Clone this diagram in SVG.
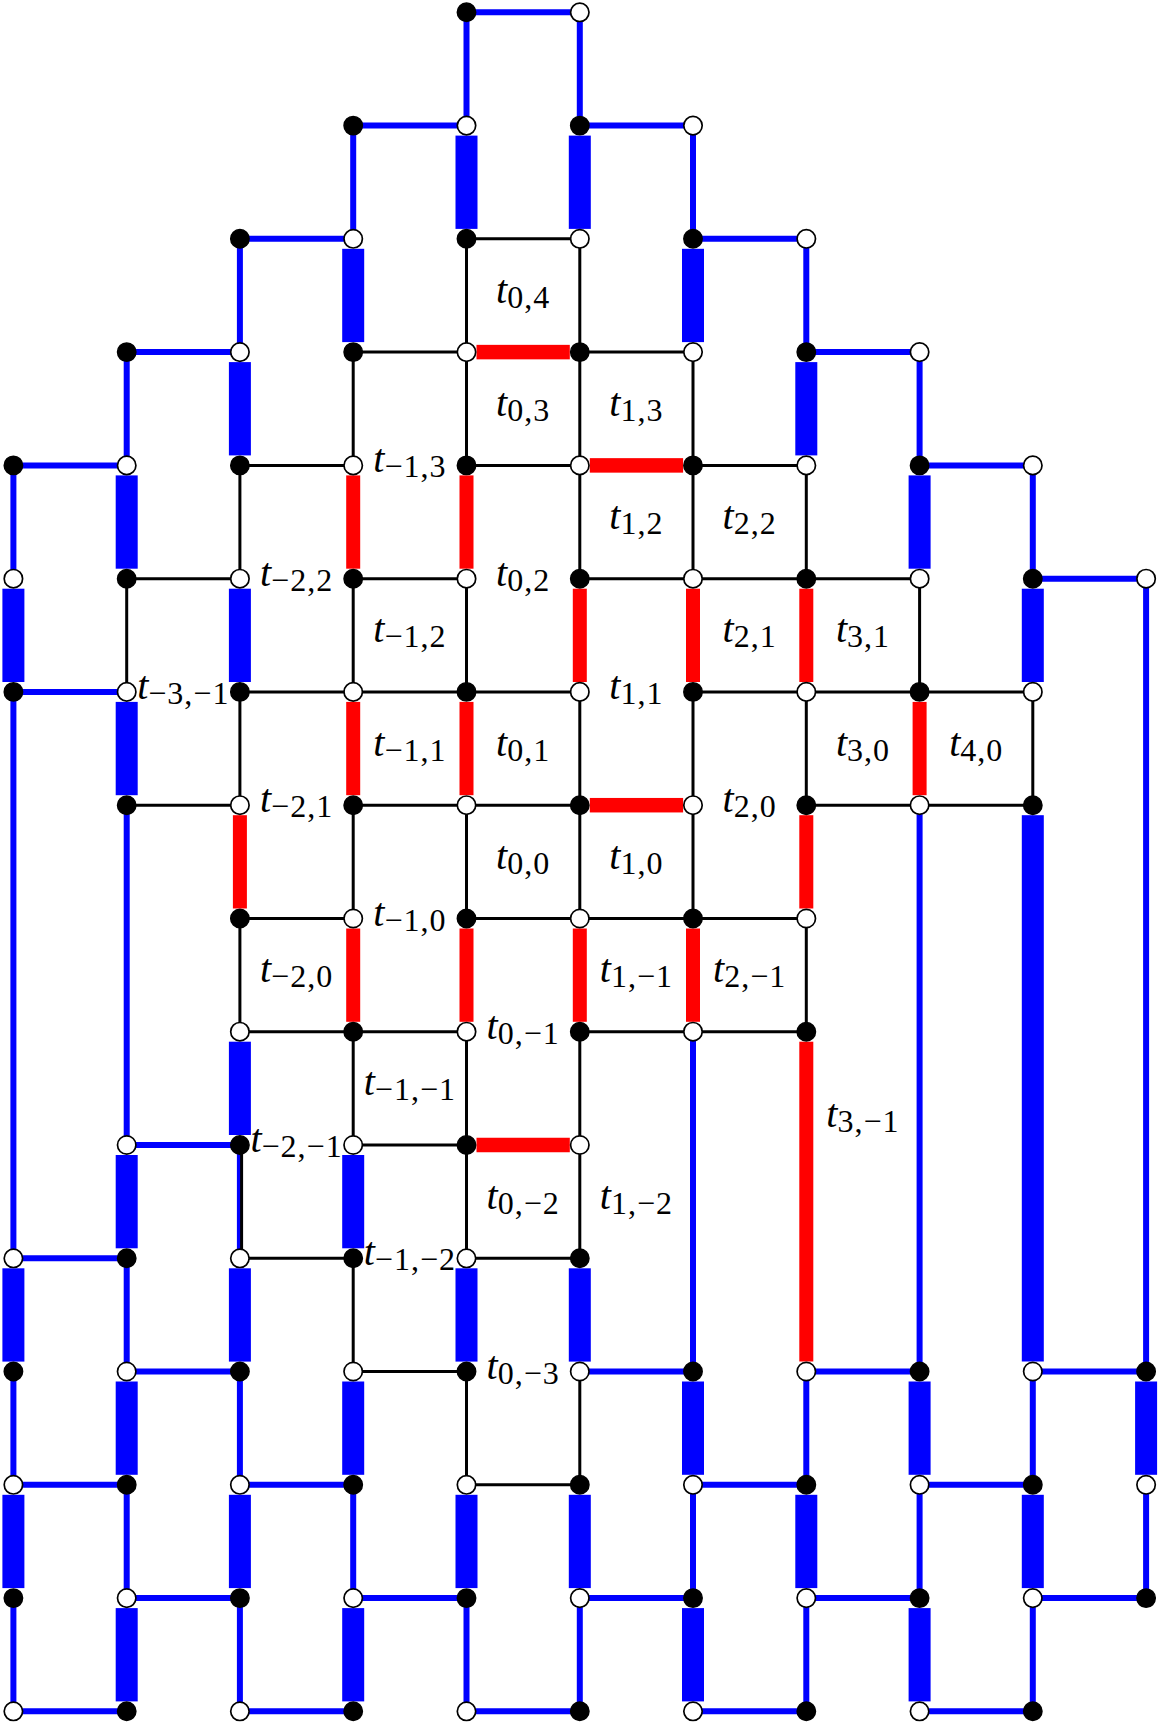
<svg xmlns="http://www.w3.org/2000/svg" width="1160" height="1724" viewBox="0 0 1160 1724">
<style>
.k{fill:none;stroke:#000;stroke-width:3}
.b{fill:none;stroke:#0000ff;stroke-width:6}
.B{fill:#0000ff}
.R{fill:#ff0000}
.bk{fill:#000;stroke:#000;stroke-width:1.5}
.wh{fill:#fff;stroke:#000;stroke-width:1.7}
.lb{font-family:"Liberation Serif","Times New Roman",serif;font-size:40px;text-anchor:middle;fill:#000}
.lb .t{font-style:italic}
.lb .s{font-size:32px;letter-spacing:1px}
</style>
<rect width="1160" height="1724" fill="#fff"/>
<g id="connectors">
<path class="b" d="M466.5 12.3H579.8M466.5 12.3V125.6M579.8 12.3V125.6M353.2 125.6H466.5M579.8 125.6H693M353.2 125.6V238.8M693 125.6V238.8M239.9 238.8H353.2M693 238.8H806.3M239.9 238.8V352.1M806.3 238.8V352.1M126.7 352.1H239.9M806.3 352.1H919.6M126.7 352.1V465.4M919.6 352.1V465.4M13.4 465.4H126.7M919.6 465.4H1032.8M13.4 465.4V578.7M1032.8 465.4V578.7M1032.8 578.7H1146.1M1146.1 578.7V1371.5M13.4 691.9H126.7M13.4 691.9V1258.3M126.7 805.2V1145M919.6 805.2V1371.5M693 1031.7V1371.5M126.7 1145H239.9M239.9 1145V1258.3M13.4 1258.3H126.7M126.7 1258.3V1371.5M126.7 1371.5H239.9M579.8 1371.5H693M806.3 1371.5H919.6M1032.8 1371.5H1146.1M13.4 1371.5V1484.8M239.9 1371.5V1484.8M806.3 1371.5V1484.8M1032.8 1371.5V1484.8M13.4 1484.8H126.7M239.9 1484.8H353.2M693 1484.8H806.3M919.6 1484.8H1032.8M126.7 1484.8V1598.1M353.2 1484.8V1598.1M693 1484.8V1598.1M919.6 1484.8V1598.1M1146.1 1484.8V1598.1M126.7 1598.1H239.9M353.2 1598.1H466.5M579.8 1598.1H693M806.3 1598.1H919.6M1032.8 1598.1H1146.1M13.4 1598.1V1711.3M239.9 1598.1V1711.3M466.5 1598.1V1711.3M579.8 1598.1V1711.3M806.3 1598.1V1711.3M1032.8 1598.1V1711.3M13.4 1711.3H126.7M239.9 1711.3H353.2M466.5 1711.3H579.8M693 1711.3H806.3M919.6 1711.3H1032.8"/>
<path class="k" d="M466.5 238.8H579.8M353.2 352.1H466.5M579.8 352.1H693M239.9 465.4H353.2M466.5 465.4H579.8M693 465.4H806.3M126.7 578.7H239.9M353.2 578.7H466.5M579.8 578.7H919.6M239.9 691.9H579.8M693 691.9H1032.8M126.7 805.2H239.9M353.2 805.2H579.8M806.3 805.2H1032.8M239.9 918.5H353.2M466.5 918.5H806.3M239.9 1031.7H466.5M579.8 1031.7H806.3M353.2 1145H466.5M239.9 1258.3H353.2M466.5 1258.3H579.8M353.2 1371.5H466.5M466.5 1484.8H579.8M466.5 238.8V465.4M579.8 238.8V465.4M353.2 352.1V465.4M693 352.1V465.4M239.9 465.4V578.7M579.8 465.4V578.7M693 465.4V578.7M806.3 465.4V578.7M126.7 578.7V691.9M353.2 578.7V691.9M466.5 578.7V691.9M919.6 578.7V691.9M239.9 691.9V805.2M579.8 691.9V918.5M693 691.9V918.5M806.3 691.9V805.2M1032.8 691.9V805.2M353.2 805.2V918.5M466.5 805.2V918.5M239.9 918.5V1031.7M806.3 918.5V1031.7M353.2 1031.7V1145M466.5 1031.7V1258.3M579.8 1031.7V1258.3M241.6 1145V1258.3M353.2 1258.3V1371.5M466.5 1371.5V1484.8M579.8 1371.5V1484.8"/>
<g class="B">
<rect x="455.5" y="135.6" width="22" height="93.3"/>
<rect x="568.8" y="135.6" width="22" height="93.3"/>
<rect x="342.2" y="248.8" width="22" height="93.3"/>
<rect x="682" y="248.8" width="22" height="93.3"/>
<rect x="228.9" y="362.1" width="22" height="93.3"/>
<rect x="795.3" y="362.1" width="22" height="93.3"/>
<rect x="115.7" y="475.4" width="22" height="93.3"/>
<rect x="908.6" y="475.4" width="22" height="93.3"/>
<rect x="2.4" y="588.7" width="22" height="93.3"/>
<rect x="228.9" y="588.7" width="22" height="93.3"/>
<rect x="1021.8" y="588.7" width="22" height="93.3"/>
<rect x="115.7" y="701.9" width="22" height="93.3"/>
<rect x="1021.8" y="815.2" width="22" height="546.3"/>
<rect x="228.9" y="1041.7" width="22" height="93.3"/>
<rect x="115.7" y="1155" width="22" height="93.3"/>
<rect x="342.2" y="1155" width="22" height="93.3"/>
<rect x="2.4" y="1268.3" width="22" height="93.3"/>
<rect x="228.9" y="1268.3" width="22" height="93.3"/>
<rect x="455.5" y="1268.3" width="22" height="93.3"/>
<rect x="568.8" y="1268.3" width="22" height="93.3"/>
<rect x="115.7" y="1381.5" width="22" height="93.3"/>
<rect x="342.2" y="1381.5" width="22" height="93.3"/>
<rect x="682" y="1381.5" width="22" height="93.3"/>
<rect x="908.6" y="1381.5" width="22" height="93.3"/>
<rect x="1135.1" y="1381.5" width="22" height="93.3"/>
<rect x="2.4" y="1494.8" width="22" height="93.3"/>
<rect x="228.9" y="1494.8" width="22" height="93.3"/>
<rect x="455.5" y="1494.8" width="22" height="93.3"/>
<rect x="568.8" y="1494.8" width="22" height="93.3"/>
<rect x="795.3" y="1494.8" width="22" height="93.3"/>
<rect x="1021.8" y="1494.8" width="22" height="93.3"/>
<rect x="115.7" y="1608.1" width="22" height="93.3"/>
<rect x="342.2" y="1608.1" width="22" height="93.3"/>
<rect x="682" y="1608.1" width="22" height="93.3"/>
<rect x="908.6" y="1608.1" width="22" height="93.3"/>
</g>
<g class="R">
<rect x="346.2" y="475.4" width="14" height="93.3"/>
<rect x="459.5" y="475.4" width="14" height="93.3"/>
<rect x="572.8" y="588.7" width="14" height="93.3"/>
<rect x="686" y="588.7" width="14" height="93.3"/>
<rect x="799.3" y="588.7" width="14" height="93.3"/>
<rect x="346.2" y="701.9" width="14" height="93.3"/>
<rect x="459.5" y="701.9" width="14" height="93.3"/>
<rect x="912.6" y="701.9" width="14" height="93.3"/>
<rect x="232.9" y="815.2" width="14" height="93.3"/>
<rect x="799.3" y="815.2" width="14" height="93.3"/>
<rect x="346.2" y="928.5" width="14" height="93.3"/>
<rect x="459.5" y="928.5" width="14" height="93.3"/>
<rect x="572.8" y="928.5" width="14" height="93.3"/>
<rect x="686" y="928.5" width="14" height="93.3"/>
<rect x="799.3" y="1041.7" width="14" height="319.8"/>
<rect x="476.5" y="344.85" width="93.3" height="14.5"/>
<rect x="589.8" y="458.15" width="93.3" height="14.5"/>
<rect x="589.8" y="797.95" width="93.3" height="14.5"/>
<rect x="476.5" y="1137.75" width="93.3" height="14.5"/>
</g>
</g>
<g id="labels-under">
<text class="lb" x="296.55" y="1152"><tspan class="t">t</tspan><tspan class="s" dy="5">−2,−1</tspan></text>
<text class="lb" x="409.85" y="1265.3"><tspan class="t">t</tspan><tspan class="s" dy="5">−1,−2</tspan></text>
</g>
<g id="nodes">
<g id="n0_4"><circle class="bk" cx="466.5" cy="12.3" r="9.2"/></g>
<g id="n0_5"><circle class="wh" cx="579.8" cy="12.3" r="9.2"/></g>
<g id="n1_3"><circle class="bk" cx="353.2" cy="125.6" r="9.2"/></g>
<g id="n1_4"><circle class="wh" cx="466.5" cy="125.6" r="9.2"/></g>
<g id="n1_5"><circle class="bk" cx="579.8" cy="125.6" r="9.2"/></g>
<g id="n1_6"><circle class="wh" cx="693" cy="125.6" r="9.2"/></g>
<g id="n2_2"><circle class="bk" cx="239.9" cy="238.8" r="9.2"/></g>
<g id="n2_3"><circle class="wh" cx="353.2" cy="238.8" r="9.2"/></g>
<g id="n2_4"><circle class="bk" cx="466.5" cy="238.8" r="9.2"/></g>
<g id="n2_5"><circle class="wh" cx="579.8" cy="238.8" r="9.2"/></g>
<g id="n2_6"><circle class="bk" cx="693" cy="238.8" r="9.2"/></g>
<g id="n2_7"><circle class="wh" cx="806.3" cy="238.8" r="9.2"/></g>
<g id="n3_1"><circle class="bk" cx="126.7" cy="352.1" r="9.2"/></g>
<g id="n3_2"><circle class="wh" cx="239.9" cy="352.1" r="9.2"/></g>
<g id="n3_3"><circle class="bk" cx="353.2" cy="352.1" r="9.2"/></g>
<g id="n3_4"><circle class="wh" cx="466.5" cy="352.1" r="9.2"/></g>
<g id="n3_5"><circle class="bk" cx="579.8" cy="352.1" r="9.2"/></g>
<g id="n3_6"><circle class="wh" cx="693" cy="352.1" r="9.2"/></g>
<g id="n3_7"><circle class="bk" cx="806.3" cy="352.1" r="9.2"/></g>
<g id="n3_8"><circle class="wh" cx="919.6" cy="352.1" r="9.2"/></g>
<g id="n4_0"><circle class="bk" cx="13.4" cy="465.4" r="9.2"/></g>
<g id="n4_1"><circle class="wh" cx="126.7" cy="465.4" r="9.2"/></g>
<g id="n4_2"><circle class="bk" cx="239.9" cy="465.4" r="9.2"/></g>
<g id="n4_3"><circle class="wh" cx="353.2" cy="465.4" r="9.2"/></g>
<g id="n4_4"><circle class="bk" cx="466.5" cy="465.4" r="9.2"/></g>
<g id="n4_5"><circle class="wh" cx="579.8" cy="465.4" r="9.2"/></g>
<g id="n4_6"><circle class="bk" cx="693" cy="465.4" r="9.2"/></g>
<g id="n4_7"><circle class="wh" cx="806.3" cy="465.4" r="9.2"/></g>
<g id="n4_8"><circle class="bk" cx="919.6" cy="465.4" r="9.2"/></g>
<g id="n4_9"><circle class="wh" cx="1032.8" cy="465.4" r="9.2"/></g>
<g id="n5_0"><circle class="wh" cx="13.4" cy="578.7" r="9.2"/></g>
<g id="n5_1"><circle class="bk" cx="126.7" cy="578.7" r="9.2"/></g>
<g id="n5_2"><circle class="wh" cx="239.9" cy="578.7" r="9.2"/></g>
<g id="n5_3"><circle class="bk" cx="353.2" cy="578.7" r="9.2"/></g>
<g id="n5_4"><circle class="wh" cx="466.5" cy="578.7" r="9.2"/></g>
<g id="n5_5"><circle class="bk" cx="579.8" cy="578.7" r="9.2"/></g>
<g id="n5_6"><circle class="wh" cx="693" cy="578.7" r="9.2"/></g>
<g id="n5_7"><circle class="bk" cx="806.3" cy="578.7" r="9.2"/></g>
<g id="n5_8"><circle class="wh" cx="919.6" cy="578.7" r="9.2"/></g>
<g id="n5_9"><circle class="bk" cx="1032.8" cy="578.7" r="9.2"/></g>
<g id="n5_10"><circle class="wh" cx="1146.1" cy="578.7" r="9.2"/></g>
<g id="n6_0"><circle class="bk" cx="13.4" cy="691.9" r="9.2"/></g>
<g id="n6_1"><circle class="wh" cx="126.7" cy="691.9" r="9.2"/></g>
<g id="n6_2"><circle class="bk" cx="239.9" cy="691.9" r="9.2"/></g>
<g id="n6_3"><circle class="wh" cx="353.2" cy="691.9" r="9.2"/></g>
<g id="n6_4"><circle class="bk" cx="466.5" cy="691.9" r="9.2"/></g>
<g id="n6_5"><circle class="wh" cx="579.8" cy="691.9" r="9.2"/></g>
<g id="n6_6"><circle class="bk" cx="693" cy="691.9" r="9.2"/></g>
<g id="n6_7"><circle class="wh" cx="806.3" cy="691.9" r="9.2"/></g>
<g id="n6_8"><circle class="bk" cx="919.6" cy="691.9" r="9.2"/></g>
<g id="n6_9"><circle class="wh" cx="1032.8" cy="691.9" r="9.2"/></g>
<g id="n7_1"><circle class="bk" cx="126.7" cy="805.2" r="9.2"/></g>
<g id="n7_2"><circle class="wh" cx="239.9" cy="805.2" r="9.2"/></g>
<g id="n7_3"><circle class="bk" cx="353.2" cy="805.2" r="9.2"/></g>
<g id="n7_4"><circle class="wh" cx="466.5" cy="805.2" r="9.2"/></g>
<g id="n7_5"><circle class="bk" cx="579.8" cy="805.2" r="9.2"/></g>
<g id="n7_6"><circle class="wh" cx="693" cy="805.2" r="9.2"/></g>
<g id="n7_7"><circle class="bk" cx="806.3" cy="805.2" r="9.2"/></g>
<g id="n7_8"><circle class="wh" cx="919.6" cy="805.2" r="9.2"/></g>
<g id="n7_9"><circle class="bk" cx="1032.8" cy="805.2" r="9.2"/></g>
<g id="n8_2"><circle class="bk" cx="239.9" cy="918.5" r="9.2"/></g>
<g id="n8_3"><circle class="wh" cx="353.2" cy="918.5" r="9.2"/></g>
<g id="n8_4"><circle class="bk" cx="466.5" cy="918.5" r="9.2"/></g>
<g id="n8_5"><circle class="wh" cx="579.8" cy="918.5" r="9.2"/></g>
<g id="n8_6"><circle class="bk" cx="693" cy="918.5" r="9.2"/></g>
<g id="n8_7"><circle class="wh" cx="806.3" cy="918.5" r="9.2"/></g>
<g id="n9_2"><circle class="wh" cx="239.9" cy="1031.7" r="9.2"/></g>
<g id="n9_3"><circle class="bk" cx="353.2" cy="1031.7" r="9.2"/></g>
<g id="n9_4"><circle class="wh" cx="466.5" cy="1031.7" r="9.2"/></g>
<g id="n9_5"><circle class="bk" cx="579.8" cy="1031.7" r="9.2"/></g>
<g id="n9_6"><circle class="wh" cx="693" cy="1031.7" r="9.2"/></g>
<g id="n9_7"><circle class="bk" cx="806.3" cy="1031.7" r="9.2"/></g>
<g id="n10_1"><circle class="wh" cx="126.7" cy="1145" r="9.2"/></g>
<g id="n10_2"><circle class="bk" cx="239.9" cy="1145" r="9.2"/></g>
<g id="n10_3"><circle class="wh" cx="353.2" cy="1145" r="9.2"/></g>
<g id="n10_4"><circle class="bk" cx="466.5" cy="1145" r="9.2"/></g>
<g id="n10_5"><circle class="wh" cx="579.8" cy="1145" r="9.2"/></g>
<g id="n11_0"><circle class="wh" cx="13.4" cy="1258.3" r="9.2"/></g>
<g id="n11_1"><circle class="bk" cx="126.7" cy="1258.3" r="9.2"/></g>
<g id="n11_2"><circle class="wh" cx="239.9" cy="1258.3" r="9.2"/></g>
<g id="n11_3"><circle class="bk" cx="353.2" cy="1258.3" r="9.2"/></g>
<g id="n11_4"><circle class="wh" cx="466.5" cy="1258.3" r="9.2"/></g>
<g id="n11_5"><circle class="bk" cx="579.8" cy="1258.3" r="9.2"/></g>
<g id="n12_0"><circle class="bk" cx="13.4" cy="1371.5" r="9.2"/></g>
<g id="n12_1"><circle class="wh" cx="126.7" cy="1371.5" r="9.2"/></g>
<g id="n12_2"><circle class="bk" cx="239.9" cy="1371.5" r="9.2"/></g>
<g id="n12_3"><circle class="wh" cx="353.2" cy="1371.5" r="9.2"/></g>
<g id="n12_4"><circle class="bk" cx="466.5" cy="1371.5" r="9.2"/></g>
<g id="n12_5"><circle class="wh" cx="579.8" cy="1371.5" r="9.2"/></g>
<g id="n12_6"><circle class="bk" cx="693" cy="1371.5" r="9.2"/></g>
<g id="n12_7"><circle class="wh" cx="806.3" cy="1371.5" r="9.2"/></g>
<g id="n12_8"><circle class="bk" cx="919.6" cy="1371.5" r="9.2"/></g>
<g id="n12_9"><circle class="wh" cx="1032.8" cy="1371.5" r="9.2"/></g>
<g id="n12_10"><circle class="bk" cx="1146.1" cy="1371.5" r="9.2"/></g>
<g id="n13_0"><circle class="wh" cx="13.4" cy="1484.8" r="9.2"/></g>
<g id="n13_1"><circle class="bk" cx="126.7" cy="1484.8" r="9.2"/></g>
<g id="n13_2"><circle class="wh" cx="239.9" cy="1484.8" r="9.2"/></g>
<g id="n13_3"><circle class="bk" cx="353.2" cy="1484.8" r="9.2"/></g>
<g id="n13_4"><circle class="wh" cx="466.5" cy="1484.8" r="9.2"/></g>
<g id="n13_5"><circle class="bk" cx="579.8" cy="1484.8" r="9.2"/></g>
<g id="n13_6"><circle class="wh" cx="693" cy="1484.8" r="9.2"/></g>
<g id="n13_7"><circle class="bk" cx="806.3" cy="1484.8" r="9.2"/></g>
<g id="n13_8"><circle class="wh" cx="919.6" cy="1484.8" r="9.2"/></g>
<g id="n13_9"><circle class="bk" cx="1032.8" cy="1484.8" r="9.2"/></g>
<g id="n13_10"><circle class="wh" cx="1146.1" cy="1484.8" r="9.2"/></g>
<g id="n14_0"><circle class="bk" cx="13.4" cy="1598.1" r="9.2"/></g>
<g id="n14_1"><circle class="wh" cx="126.7" cy="1598.1" r="9.2"/></g>
<g id="n14_2"><circle class="bk" cx="239.9" cy="1598.1" r="9.2"/></g>
<g id="n14_3"><circle class="wh" cx="353.2" cy="1598.1" r="9.2"/></g>
<g id="n14_4"><circle class="bk" cx="466.5" cy="1598.1" r="9.2"/></g>
<g id="n14_5"><circle class="wh" cx="579.8" cy="1598.1" r="9.2"/></g>
<g id="n14_6"><circle class="bk" cx="693" cy="1598.1" r="9.2"/></g>
<g id="n14_7"><circle class="wh" cx="806.3" cy="1598.1" r="9.2"/></g>
<g id="n14_8"><circle class="bk" cx="919.6" cy="1598.1" r="9.2"/></g>
<g id="n14_9"><circle class="wh" cx="1032.8" cy="1598.1" r="9.2"/></g>
<g id="n14_10"><circle class="bk" cx="1146.1" cy="1598.1" r="9.2"/></g>
<g id="n15_0"><circle class="wh" cx="13.4" cy="1711.3" r="9.2"/></g>
<g id="n15_1"><circle class="bk" cx="126.7" cy="1711.3" r="9.2"/></g>
<g id="n15_2"><circle class="wh" cx="239.9" cy="1711.3" r="9.2"/></g>
<g id="n15_3"><circle class="bk" cx="353.2" cy="1711.3" r="9.2"/></g>
<g id="n15_4"><circle class="wh" cx="466.5" cy="1711.3" r="9.2"/></g>
<g id="n15_5"><circle class="bk" cx="579.8" cy="1711.3" r="9.2"/></g>
<g id="n15_6"><circle class="wh" cx="693" cy="1711.3" r="9.2"/></g>
<g id="n15_7"><circle class="bk" cx="806.3" cy="1711.3" r="9.2"/></g>
<g id="n15_8"><circle class="wh" cx="919.6" cy="1711.3" r="9.2"/></g>
<g id="n15_9"><circle class="bk" cx="1032.8" cy="1711.3" r="9.2"/></g>
</g>
<g id="labels">
<text class="lb" x="523.15" y="302.5"><tspan class="t">t</tspan><tspan class="s" dy="5">0,4</tspan></text>
<text class="lb" x="523.15" y="415.8"><tspan class="t">t</tspan><tspan class="s" dy="5">0,3</tspan></text>
<text class="lb" x="636.4" y="415.8"><tspan class="t">t</tspan><tspan class="s" dy="5">1,3</tspan></text>
<text class="lb" x="409.85" y="472.4"><tspan class="t">t</tspan><tspan class="s" dy="5">−1,3</tspan></text>
<text class="lb" x="636.4" y="529"><tspan class="t">t</tspan><tspan class="s" dy="5">1,2</tspan></text>
<text class="lb" x="749.65" y="529"><tspan class="t">t</tspan><tspan class="s" dy="5">2,2</tspan></text>
<text class="lb" x="296.55" y="585.7"><tspan class="t">t</tspan><tspan class="s" dy="5">−2,2</tspan></text>
<text class="lb" x="523.15" y="585.7"><tspan class="t">t</tspan><tspan class="s" dy="5">0,2</tspan></text>
<text class="lb" x="409.85" y="642.3"><tspan class="t">t</tspan><tspan class="s" dy="5">−1,2</tspan></text>
<text class="lb" x="749.65" y="642.3"><tspan class="t">t</tspan><tspan class="s" dy="5">2,1</tspan></text>
<text class="lb" x="862.95" y="642.3"><tspan class="t">t</tspan><tspan class="s" dy="5">3,1</tspan></text>
<text class="lb" x="183.3" y="698.9"><tspan class="t">t</tspan><tspan class="s" dy="5">−3,−1</tspan></text>
<text class="lb" x="636.4" y="698.9"><tspan class="t">t</tspan><tspan class="s" dy="5">1,1</tspan></text>
<text class="lb" x="409.85" y="755.5"><tspan class="t">t</tspan><tspan class="s" dy="5">−1,1</tspan></text>
<text class="lb" x="523.15" y="755.5"><tspan class="t">t</tspan><tspan class="s" dy="5">0,1</tspan></text>
<text class="lb" x="862.95" y="755.5"><tspan class="t">t</tspan><tspan class="s" dy="5">3,0</tspan></text>
<text class="lb" x="976.2" y="755.5"><tspan class="t">t</tspan><tspan class="s" dy="5">4,0</tspan></text>
<text class="lb" x="296.55" y="812.2"><tspan class="t">t</tspan><tspan class="s" dy="5">−2,1</tspan></text>
<text class="lb" x="749.65" y="812.2"><tspan class="t">t</tspan><tspan class="s" dy="5">2,0</tspan></text>
<text class="lb" x="523.15" y="868.8"><tspan class="t">t</tspan><tspan class="s" dy="5">0,0</tspan></text>
<text class="lb" x="636.4" y="868.8"><tspan class="t">t</tspan><tspan class="s" dy="5">1,0</tspan></text>
<text class="lb" x="409.85" y="925.5"><tspan class="t">t</tspan><tspan class="s" dy="5">−1,0</tspan></text>
<text class="lb" x="296.55" y="982.1"><tspan class="t">t</tspan><tspan class="s" dy="5">−2,0</tspan></text>
<text class="lb" x="636.4" y="982.1"><tspan class="t">t</tspan><tspan class="s" dy="5">1,−1</tspan></text>
<text class="lb" x="749.65" y="982.1"><tspan class="t">t</tspan><tspan class="s" dy="5">2,−1</tspan></text>
<text class="lb" x="523.15" y="1038.7"><tspan class="t">t</tspan><tspan class="s" dy="5">0,−1</tspan></text>
<text class="lb" x="409.85" y="1095.3"><tspan class="t">t</tspan><tspan class="s" dy="5">−1,−1</tspan></text>
<text class="lb" x="862.95" y="1127"><tspan class="t">t</tspan><tspan class="s" dy="5">3,−1</tspan></text>
<text class="lb" x="523.15" y="1208.6"><tspan class="t">t</tspan><tspan class="s" dy="5">0,−2</tspan></text>
<text class="lb" x="636.4" y="1208.6"><tspan class="t">t</tspan><tspan class="s" dy="5">1,−2</tspan></text>
<text class="lb" x="523.15" y="1378.5"><tspan class="t">t</tspan><tspan class="s" dy="5">0,−3</tspan></text>
</g>
</svg>
